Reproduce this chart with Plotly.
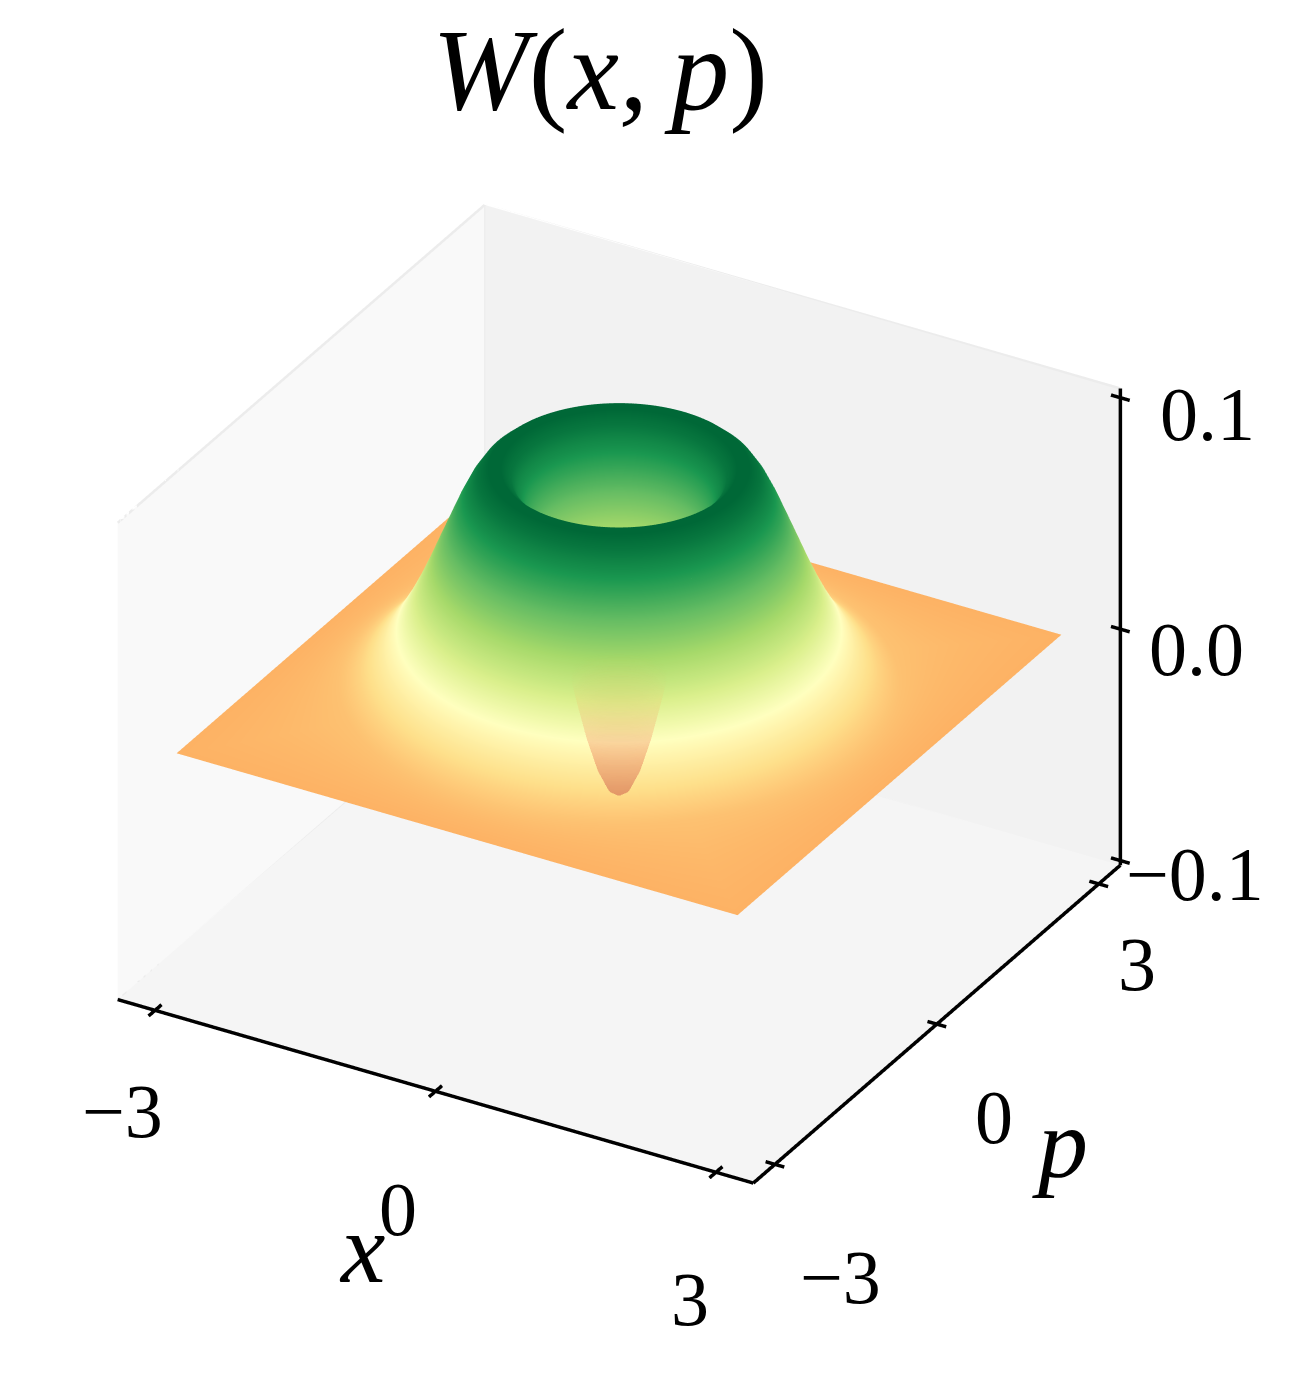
import numpy as np
import plotly.graph_objects as go

# Radial profile of W(x,p)
radius = [0.0,0.1,0.2,0.3,0.4,0.5,0.6,0.7,0.8,0.9,1.0,1.1,1.2,1.3,1.4,1.5,1.6,1.7,1.8,1.9,2.0,2.1,2.2,2.3,2.4,2.5,2.6,2.7,2.8,2.9,3.0]
wigner = [-0.043,-0.040,-0.0312,-0.0176,-0.0003,0.0192,0.0389,0.0575,0.0737,0.0862,0.0945,0.0986,0.0987,0.0951,0.0888,0.0803,0.0704,0.0604,0.0503,0.0410,0.0326,0.0253,0.0192,0.0144,0.0104,0.0074,0.0052,0.0035,0.0024,0.0016,0.001]
tick_xy = [-3, 0, 3]
tick_z = [-0.1, 0.0, 0.1]
x_tick_labels = ["\u22123", "0", "3"]
y_tick_labels = ["\u22123", "0", "3"]
z_tick_labels = ["\u22120.1", "0.0", "0.1"]
RdYlGn = ["#a50026","#d73027","#f46d43","#fdae61","#fee08b","#ffffbf","#d9ef8b","#a6d96a","#66bd63","#1a9850","#006837"]
colorscale = [[i/10, c] for i, c in enumerate(RdYlGn)]

theta = np.radians(np.arange(0, 361, 1.0))
r = np.array(radius)
w = np.array(wigner)
R0 = 2.6
S = 3/np.maximum(np.abs(np.cos(theta)), np.abs(np.sin(theta)))
rho = np.array([ri*np.ones_like(S) if ri <= R0 else R0+(S-R0)*(ri-R0)/(3-R0) for ri in r])
X = rho*np.cos(theta)
Y = rho*np.sin(theta)
Z = np.repeat(w[:, None], theta.size, axis=1)

lighting = dict(ambient=1, diffuse=0, specular=0, roughness=1, fresnel=0)
surf = go.Surface(x=X, y=Y, z=Z, surfacecolor=Z, colorscale=colorscale, cmin=min(wigner), cmax=max(wigner),
                  showscale=False, lighting=lighting, hoverinfo="skip")
n_hole = 6
hole = go.Surface(x=X[:n_hole], y=Y[:n_hole], z=Z[:n_hole], surfacecolor=Z[:n_hole], colorscale=colorscale,
                  cmin=min(wigner), cmax=max(wigner), showscale=False, lighting=lighting,
                  opacityscale=[[0, 0.18], [0.15, 0.15], [0.3, 0.08], [0.37, 0.0], [1, 0.0]],
                  hoverinfo="skip", scene="scene2")

XL, ZL = (-3.4, 3.4), (-0.102, 0.104)
tx, ty = 0.1, 0.12
def segs(pairs):
    xs, ys, zs = [], [], []
    for a, b in pairs:
        xs += [a[0], b[0], None]; ys += [a[1], b[1], None]; zs += [a[2], b[2], None]
    return xs, ys, zs
pairs = [((XL[0], XL[0], ZL[0]), (XL[1], XL[0], ZL[0])),
         ((XL[1], XL[0], ZL[0]), (XL[1], XL[1], ZL[0])),
         ((XL[1], XL[1], ZL[0]), (XL[1], XL[1], ZL[1]))]
pairs += [((v, XL[0]-ty, ZL[0]), (v, XL[0]+ty, ZL[0])) for v in tick_xy]
pairs += [((XL[1]-tx, v, ZL[0]), (XL[1]+tx, v, ZL[0])) for v in tick_xy]
pairs += [((XL[1]-tx, XL[1], v), (XL[1]+tx, XL[1], v)) for v in tick_z]
ax_x, ax_y, ax_z = segs(pairs)
axes_lines = go.Scatter3d(x=ax_x, y=ax_y, z=ax_z, mode="lines", line=dict(color="black", width=7),
                          hoverinfo="skip", scene="scene2")
# faint pane edges of the box
edge_pairs = [((XL[0], XL[1], ZL[0]), (XL[0], XL[1], ZL[1])),
              ((XL[0], XL[0], ZL[1]), (XL[0], XL[1], ZL[1])),
              ((XL[0], XL[1], ZL[1]), (XL[1], XL[1], ZL[1])),
              ((XL[0], XL[1], ZL[0]), (XL[1], XL[1], ZL[0])),
              ((XL[0], XL[0], ZL[0]), (XL[0], XL[1], ZL[0]))]
ex, ey, ez = segs(edge_pairs)
pane_edges = go.Scatter3d(x=ex, y=ey, z=ez, mode="lines", line=dict(color="#ececec", width=5), hoverinfo="skip")

def axis(rng, bg):
    return dict(range=rng, showticklabels=False, title=dict(text=""), showgrid=False, zeroline=False,
                showline=False, ticks="", showbackground=True, backgroundcolor=bg, showspikes=False)
D = 2.4
camera = dict(eye=dict(x=0.433*D, y=-0.75*D, z=0.5*D), up=dict(x=0, y=0, z=1),
              center=dict(x=0, y=0, z=0), projection=dict(type="orthographic"))
A = 1.07
ZA = 0.75*A
dom = dict(x=[0, 0.9415], y=[0.0015, 1])
scene = dict(domain=dom, camera=camera, aspectmode="manual", aspectratio=dict(x=A, y=A, z=ZA),
             xaxis=axis(list(XL), "#f9f9f9"), yaxis=axis(list(XL), "#f2f2f2"), zaxis=axis(list(ZL), "#f5f5f5"),
             bgcolor="white")
# overlay scene: same box, enlarged by a common factor so ticks may stick out of the box
k = 1.1
zc, zh = sum(ZL)/2, (ZL[1]-ZL[0])/2
hidden = dict(visible=False)
scene2 = dict(domain=dom, camera=camera, aspectmode="manual",
              aspectratio=dict(x=A*k, y=A*k, z=ZA*k), bgcolor="rgba(0,0,0,0)",
              xaxis=dict(range=[XL[0]*k, XL[1]*k], **hidden), yaxis=dict(range=[XL[0]*k, XL[1]*k], **hidden),
              zaxis=dict(range=[zc-zh*k, zc+zh*k], **hidden))

def label(text, px, py, size):
    return dict(text=text, x=px/1298, y=1-py/1374, xref="paper", yref="paper", showarrow=False,
                xanchor="center", yanchor="middle", font=dict(family="Liberation Serif", size=size, color="black"))
anns = [label("<i>x</i>", 354, 1240, 100), label("<i>p</i>", 1052, 1135, 100)]
for t, pos in zip(x_tick_labels, [(114, 1103), (390, 1201), (682, 1291)]):
    anns.append(label(t, *pos, 76))
for t, pos in zip(y_tick_labels, [(832, 1269), (986, 1109), (1129, 956)]):
    anns.append(label(t, *pos, 76))
for t, pos in zip(z_tick_labels, [(1187, 866), (1188, 641), (1199, 406)]):
    anns.append(label(t, *pos, 76))

fig = go.Figure([surf, pane_edges, hole, axes_lines])
fig.update_layout(width=1298, height=1374, margin=dict(l=0, r=0, t=0, b=0), paper_bgcolor="white",
                  scene=scene, scene2=scene2, showlegend=False, annotations=anns,
                  title=dict(text="<i>W</i>(<i>x,</i>\u2009<i>p</i>)", x=592/1298, xanchor="center", y=1-60/1374, yanchor="middle",
                             font=dict(family="Liberation Serif", size=116, color="black")))
fig.write_html("out.html")
